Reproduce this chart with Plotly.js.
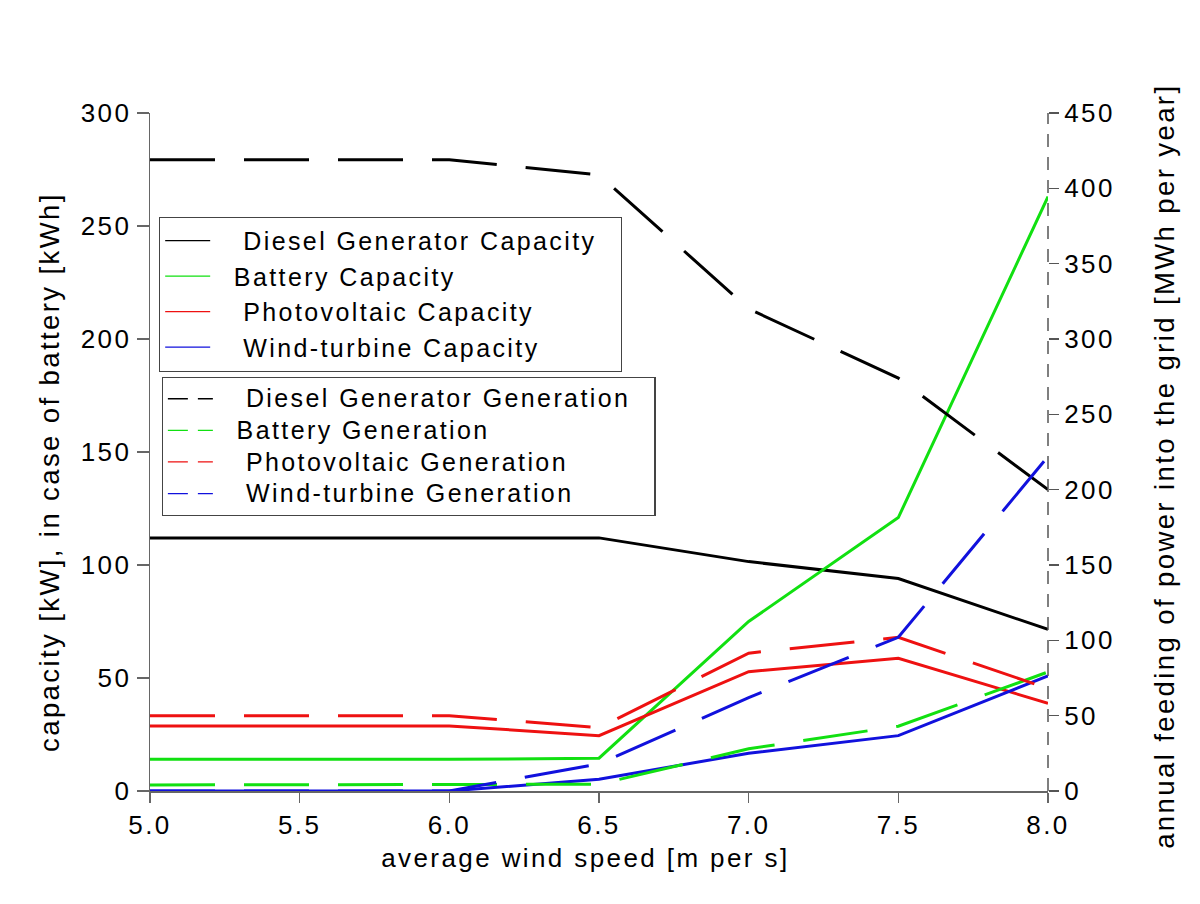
<!DOCTYPE html>
<html>
<head>
<meta charset="utf-8">
<script src="https://cdn.plot.ly/plotly-3.0.1.min.js"></script>
<style>
html, body { margin: 0; padding: 0; background: #fff; }
#chart { width: 1200px; height: 904px; }
svg text { letter-spacing: 2.4px; }
</style>
</head>
<body>
<div id="chart"></div>
<script>
// Data
const windSpeed = [5.0, 5.5, 6.0, 6.5, 7.0, 7.5, 8.0];

// Capacities (left axis, kW / kWh)
const dieselCap  = [112, 112, 112, 112, 101.5, 94, 71.5];
const batteryCap = [14, 14, 14, 14.5, 75, 121, 263];
const pvCap      = [28.8, 28.8, 28.8, 24.5, 52.8, 58.7, 38.8];
const windCap    = [0, 0, 0, 5.2, 16.7, 24.5, 50.9];

// Generation (right axis, MWh per year)
const dieselGen  = [419, 419, 419, 409, 320, 274, 200];
const batteryGen = [4, 4, 4, 4.5, 28, 43, 79];
const pvGen      = [50, 50, 50, 42, 91.5, 102, 68];
const windGen    = [0, 0, 0, 18, 62, 102, 222];

const xTitle = 'average wind speed [m per s]';
const yTitle = 'capacity [kW], in case of battery [kWh]';
const y2Title = 'annual feeding of power into the grid [MWh per year]';

const NB = '\u00a0';
const pad = s => NB + NB + s + NB + NB;
const capNames = [NB+NB+NB+'Diesel Generator Capacity'+NB+NB, NB+NB+'Battery Capacity', NB+NB+NB+'Photovoltaic Capacity', NB+NB+NB+'Wind-turbine Capacity'];
const genNames = [NB+NB+NB+'Diesel Generator Generation'+NB+NB, NB+NB+'Battery Generation', NB+NB+NB+'Photovoltaic Generation', NB+NB+NB+'Wind-turbine Generation'];

const colors = ['#000000', '#11e011', '#ee1111', '#1111dd'];
const capSeries = [dieselCap, batteryCap, pvCap, windCap];
const genSeries = [dieselGen, batteryGen, pvGen, windGen];

const traces = [];
capSeries.forEach((s, i) => {
  traces.push({x: windSpeed, y: s, type: 'scatter', mode: 'lines', yaxis: 'y',
    line: {color: colors[i], width: 3}, showlegend: false, hoverinfo: 'skip'});
});
genSeries.forEach((s, i) => {
  traces.push({x: windSpeed, y: s, type: 'scatter', mode: 'lines', yaxis: 'y2',
    line: {color: colors[i], width: 3, dash: '65px,29px'}, showlegend: false, hoverinfo: 'skip'});
});
// legend entries (thin samples like in the reference)
capNames.forEach((n, i) => {
  traces.push({x: [null], y: [null], type: 'scatter', mode: 'lines', name: n, legend: 'legend',
    line: {color: colors[i], width: 1.3}});
});
genNames.forEach((n, i) => {
  traces.push({x: [null], y: [null], type: 'scatter', mode: 'lines', legend: 'legend2', yaxis: 'y2',
    name: '<span style="font-size:25px">' + n + '</span>',
    line: {color: colors[i], width: 1.3, dash: '20px,10px'}});
});

const fontFam = 'Liberation Sans, Arial, sans-serif';
const layout = {
  width: 1200, height: 904,
  margin: {l: 150, r: 152, t: 113, b: 113},
  paper_bgcolor: '#ffffff', plot_bgcolor: '#ffffff',
  font: {family: fontFam, size: 25, color: '#000'},
  xaxis: {
    range: [5, 8], dtick: 0.5, tick0: 5, tickformat: '.1f',
    showgrid: false, zeroline: false, showline: true, linecolor: '#666', linewidth: 1.5,
    ticks: 'outside', ticklen: 10, tickwidth: 1.5, tickcolor: '#666',
    tickfont: {size: 26}
  },
  yaxis: {
    range: [0, 300], dtick: 50,
    showgrid: false, zeroline: false, showline: true, linecolor: '#666', linewidth: 1.5,
    ticks: 'outside', ticklen: 12, tickwidth: 1.5, tickcolor: '#666',
    tickfont: {size: 26}
  },
  yaxis2: {
    range: [0, 450], dtick: 50, overlaying: 'y', side: 'right',
    showgrid: false, zeroline: false, showline: false,
    ticks: 'outside', ticklen: 10, tickwidth: 1.5, tickcolor: '#555',
    tickfont: {size: 26}
  },
  annotations: [
    {text: pad(xTitle), xref: 'paper', yref: 'paper', x: 0.5, y: 0,
     xanchor: 'center', yanchor: 'middle', xshift: -14, yshift: -67, showarrow: false, font: {size: 26}},
    {text: pad(yTitle), textangle: -90, xref: 'paper', yref: 'paper', x: 0, y: 0.4705,
     xanchor: 'center', yanchor: 'middle', xshift: -101, showarrow: false, font: {size: 27.5}},
    {text: pad(y2Title), textangle: -90, xref: 'paper', yref: 'paper', x: 1, y: 0.478,
     xanchor: 'center', yanchor: 'middle', xshift: 117, showarrow: false, font: {size: 27.5}}
  ],
  legend: {
    x: 0.01, y: 0.847, xanchor: 'left', yanchor: 'top',
    bgcolor: 'rgba(255,255,255,0)', bordercolor: '#444', borderwidth: 1.2,
    font: {size: 25}, itemwidth: 45, tracegroupgap: 0
  },
  legend2: {
    x: 0.013, y: 0.611, xanchor: 'left', yanchor: 'top',
    bgcolor: 'rgba(255,255,255,0)', bordercolor: '#444', borderwidth: 1.2,
    font: {size: 22}, itemwidth: 45, tracegroupgap: 0
  },
  shapes: [{
    type: 'line', xref: 'paper', yref: 'paper', x0: 1, x1: 1, y0: 0, y1: 1,
    line: {color: '#555', width: 1.5, dash: '13px,10px'}
  }]
};

Plotly.newPlot('chart', traces, layout, {displayModeBar: false, staticPlot: true});
</script>
</body>
</html>
